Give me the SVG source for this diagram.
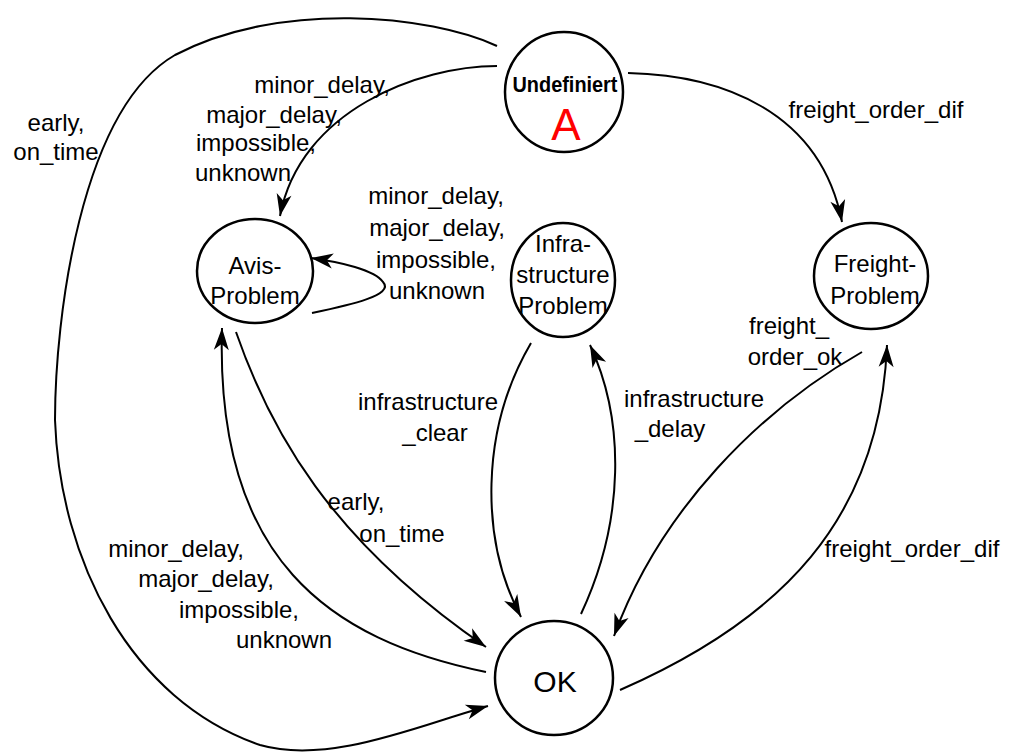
<svg xmlns="http://www.w3.org/2000/svg" width="1011" height="754" viewBox="0 0 1011 754">
<style>
.node{fill:#fff;stroke:#000;stroke-width:2.5}
.edge{fill:none;stroke:#000;stroke-width:2}
text{font-family:"Liberation Sans",Arial,sans-serif;fill:#000}
.lbl{font-size:24px;text-anchor:middle}
.nt{font-size:24px;text-anchor:middle}
</style>
<defs>
<marker id="arr" markerUnits="userSpaceOnUse" markerWidth="30" markerHeight="20" viewBox="-2 -10 30 20" refX="22" refY="0" orient="auto">
<path d="M0,-7.5 L22,0 L0,7.5 L6,0 Z" fill="#000"/>
</marker>
</defs>
<rect width="1011" height="754" fill="#fff"/>
<g id="connectors">
<path class="edge" d="M497,66 C420,66 300,110 280,216" marker-end="url(#arr)"/>
<path class="edge" d="M497,46 C430,15 280,0 175,55 C80,110 55,320 55,420 C60,560 130,700 260,745 C330,765 420,725 488,706" marker-end="url(#arr)"/>
<path class="edge" d="M628,73 C720,75 820,110 842,222" marker-end="url(#arr)"/>
<path class="edge" d="M312,313 C350,305 395,295 383,282 C375,270 340,262 311,258" marker-end="url(#arr)"/>
<path class="edge" d="M236,332 C270,430 330,540 486,647" marker-end="url(#arr)"/>
<path class="edge" d="M486,672 C330,640 215,560 222,328" marker-end="url(#arr)"/>
<path class="edge" d="M531,343 C480,430 480,540 521,617" marker-end="url(#arr)"/>
<path class="edge" d="M581,614 C625,520 625,420 590,345" marker-end="url(#arr)"/>
<path class="edge" d="M862,352 C760,410 660,510 614,636" marker-end="url(#arr)"/>
<path class="edge" d="M620,690 C780,620 880,520 887,345" marker-end="url(#arr)"/>
<text class="lbl" x="322" y="93">minor_delay,</text>
<text class="lbl" x="274" y="123">major_delay,</text>
<text class="lbl" x="256" y="151">impossible,</text>
<text class="lbl" x="243" y="181">unknown</text>
<text class="lbl" x="56" y="131">early,</text>
<text class="lbl" x="56" y="160">on_time</text>
<text class="lbl" x="876" y="118">freight_order_dif</text>
<text class="lbl" x="436" y="204">minor_delay,</text>
<text class="lbl" x="437" y="236">major_delay,</text>
<text class="lbl" x="436" y="268">impossible,</text>
<text class="lbl" x="437" y="299">unknown</text>
<text class="lbl" x="428" y="410">infrastructure</text>
<text class="lbl" x="435" y="441">_clear</text>
<text class="lbl" x="694" y="407">infrastructure</text>
<text class="lbl" x="670" y="437">_delay</text>
<text class="lbl" x="789" y="334">freight_</text>
<text class="lbl" x="795" y="365">order_ok</text>
<text class="lbl" x="356" y="510">early,</text>
<text class="lbl" x="402" y="542">on_time</text>
<text class="lbl" x="176" y="557">minor_delay,</text>
<text class="lbl" x="206" y="587">major_delay,</text>
<text class="lbl" x="239" y="618">impossible,</text>
<text class="lbl" x="284" y="648">unknown</text>
<text class="lbl" x="912" y="557">freight_order_dif</text>
</g>
<g id="undefiniert">
<ellipse class="node" cx="564" cy="92" rx="59" ry="60"/>
<text class="nt" x="565" y="92" textLength="105" lengthAdjust="spacingAndGlyphs" style="font-size:22px;font-weight:bold">Undefiniert</text>
<text x="566" y="140" style="font-size:44px;text-anchor:middle;fill:#f00">A</text>
</g>
<g id="avis">
<ellipse class="node" cx="255" cy="271" rx="58" ry="52"/>
<text class="nt" x="255" y="274">Avis-</text>
<text class="nt" x="255" y="304">Problem</text>
</g>
<g id="infra">
<ellipse class="node" cx="563" cy="280" rx="52" ry="57"/>
<text class="nt" x="563" y="252">Infra-</text>
<text class="nt" x="563" y="283">structure</text>
<text class="nt" x="563" y="314">Problem</text>
</g>
<g id="freight">
<ellipse class="node" cx="871" cy="276" rx="57" ry="53"/>
<text class="nt" x="875" y="272">Freight-</text>
<text class="nt" x="875" y="304">Problem</text>
</g>
<g id="ok">
<ellipse class="node" cx="554" cy="678" rx="59" ry="57"/>
<text x="555" y="692" style="font-size:30px;text-anchor:middle">OK</text>
</g>
</svg>
